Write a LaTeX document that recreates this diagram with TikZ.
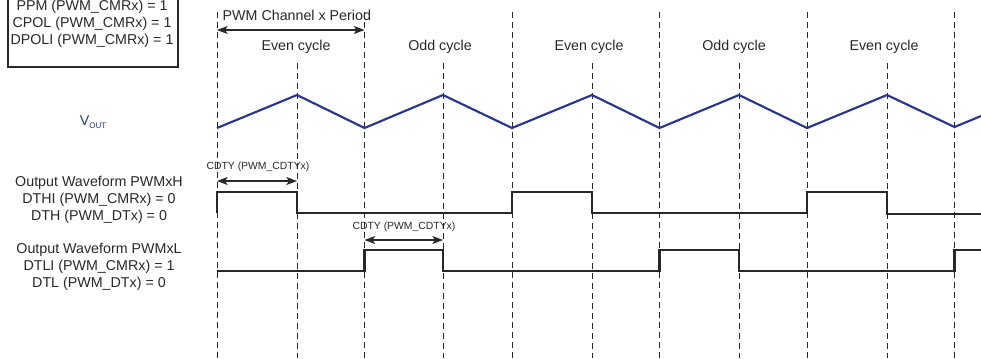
\documentclass[tikz,border=0pt]{standalone}
\usepackage{fontspec}
\setmainfont{Liberation Sans}
\usetikzlibrary{arrows.meta}

\definecolor{voutblue}{RGB}{40,52,148}
\definecolor{inkgray}{RGB}{40,40,40}

\tikzset{
  guide/.style={draw=inkgray, line width=0.6pt, dash pattern=on 4.5pt off 3pt},
  wave/.style={draw=inkgray, line width=1.6pt, line join=miter},
  ramp/.style={draw=voutblue, line width=1.6pt},
  span/.style={draw=inkgray, line width=0.8pt, {Stealth[length=8pt,width=6pt,inset=2pt]}-{Stealth[length=8pt,width=6pt,inset=2pt]}},
  small/.style={font=\fontsize{7.8}{9.5}\selectfont}
}

\begin{document}
\begin{tikzpicture}[x=0.75pt, y=-0.75pt, font=\fontsize{10.7}{12.75}\selectfont, text=inkgray]
  \useasboundingbox (0,0) rectangle (981,358);
  \clip (0,0) rectangle (981,358);

  % Mode settings box
  \draw[draw=inkgray, line width=1pt] (8,-30) rectangle (178,67);
  \node[align=center] (mode) at (92,24) {PPM (PWM\_CMRx) = 1\\CPOL (PWM\_CMRx) = 1\\DPOLI (PWM\_CMRx) = 1};

  % Period boundaries
  \draw[guide] (217,12) -- (217,358);
  \draw[guide] (364.5,12) -- (364.5,358);
  \draw[guide] (512,12) -- (512,358);
  \draw[guide] (659.5,12) -- (659.5,358);
  \draw[guide] (807,12) -- (807,358);
  \draw[guide] (954.5,12) -- (954.5,358);

  % Half-period markers
  \draw[guide] (297,63) -- (297,358);
  \draw[guide] (443,63) -- (443,358);
  \draw[guide] (592,63) -- (592,358);
  \draw[guide] (739,63) -- (739,358);
  \draw[guide] (887,63) -- (887,358);

  % Period and cycle labels
  \coordinate (per0) at (217,30);
  \coordinate (per1) at (364.5,30);
  \node[anchor=west] (period) at (218,15) {PWM Channel x Period};
  \draw[span] (per0) -- (per1);
  \node (cyc1) at (296,47) {Even cycle};
  \node (cyc2) at (440,47) {Odd cycle};
  \node (cyc3) at (589,47) {Even cycle};
  \node (cyc4) at (734,47) {Odd cycle};
  \node (cyc5) at (884,47) {Even cycle};

  % Counter ramp
  \node[text=voutblue] (vout) at (93,122) {V\raisebox{-0.45ex}{\fontsize{6}{6}\selectfont OUT}};
  \draw[ramp] (217,128) -- (297,95) -- (364.5,128) -- (443,95) -- (512,128) -- (592,95)
    -- (659.5,128) -- (739,95) -- (807,128) -- (887,95) -- (954.5,127) -- (981,116);

  % Output PWMxH
  \node[align=center] (outh) at (99,200) {Output Waveform PWMxH\\DTHI (PWM\_CMRx) = 0\\DTH (PWM\_DTx) = 0};
  \coordinate (dh0) at (217,181);
  \coordinate (dh1) at (297,181);
  \node[small] (cdtyh) at (258,167) {CDTY (PWM\_CDTYx)};
  \draw[span] (dh0) -- (dh1);
  \draw[wave] (217,213) -- (217,192) -- (297,192) -- (297,213) -- (512,213) -- (512,192)
    -- (592,192) -- (592,213) -- (807,213) -- (807,192) -- (887,192) -- (887,214) -- (981,214);

  % Output PWMxL
  \node[align=center] (outl) at (99,267) {Output Waveform PWMxL\\DTLI (PWM\_CMRx) = 1\\DTL (PWM\_DTx) = 0};
  \coordinate (dl0) at (364.5,240);
  \coordinate (dl1) at (443,240);
  \node[small] (cdtyl) at (404,227) {CDTY (PWM\_CDTYx)};
  \draw[span] (dl0) -- (dl1);
  \draw[wave] (217,271) -- (364.5,271) -- (364.5,250) -- (443,250) -- (443,271) -- (659.5,271)
    -- (659.5,250) -- (739,250) -- (739,271) -- (954.5,271) -- (954.5,250) -- (981,250);
\end{tikzpicture}
\end{document}
